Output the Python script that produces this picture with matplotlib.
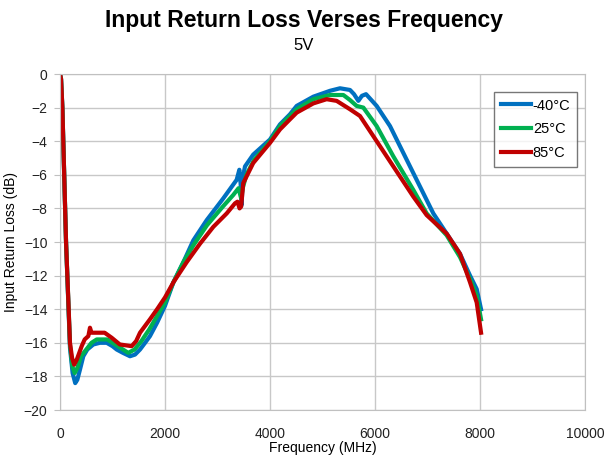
import matplotlib.pyplot as plt

plt.rcParams['font.family'] = ['Liberation Sans', 'DejaVu Sans']

# -40°C
freq_m40 = [0, 20, 45, 115, 190, 240, 290, 330, 380, 444, 520, 635, 760, 889, 1000,
            1080, 1200, 1333, 1430, 1524, 1620, 1714, 1850, 2000, 2160, 2350, 2540,
            2794, 3111, 3365, 3416, 3440, 3460, 3480, 3524, 3680, 4000, 4190, 4380,
            4508, 4825, 5143, 5333, 5524, 5600, 5683, 5750, 5829, 6032, 6286, 6603,
            6857, 7111, 7365, 7619, 7810, 7937, 8020]
loss_m40 = [0, -0.3, -2.0, -10.0, -16.3, -17.8, -18.4, -18.2, -17.6, -16.8, -16.4,
            -16.1, -16.0, -16.0, -16.2, -16.4, -16.6, -16.8, -16.7, -16.4, -16.0,
            -15.6, -14.8, -13.8, -12.4, -11.2, -9.9, -8.7, -7.4, -6.3, -5.7, -6.5,
            -7.8, -6.2, -5.5, -4.8, -3.9, -3.0, -2.4, -1.9, -1.35, -1.0, -0.85,
            -0.95, -1.2, -1.6, -1.3, -1.2, -1.9, -3.1, -5.1, -6.7, -8.3, -9.5,
            -10.7, -12.0, -12.8, -14.0]

# 25°C
freq_25 = [0, 20, 45, 115, 190, 235, 280, 330, 400, 500, 600, 700, 900, 1000, 1150,
           1300, 1420, 1550, 1700, 1850, 2000, 2160, 2350, 2540, 2800, 3100, 3300,
           3400, 3450, 3480, 3550, 3700, 4000, 4190, 4508, 4825, 5143, 5397, 5524,
           5650, 5778, 6032, 6349, 6730, 6984, 7365, 7619, 7810, 7937, 8020]
loss_25 = [0, -0.3, -2.0, -10.0, -16.1, -17.4, -17.8, -17.5, -16.8, -16.4, -16.0,
           -15.8, -15.8, -16.0, -16.3, -16.6, -16.4, -15.9, -15.2, -14.4, -13.6,
           -12.4, -11.2, -10.2, -9.0, -7.9, -7.2, -6.8, -7.4, -6.8, -6.0, -5.1,
           -4.0, -3.1, -2.1, -1.5, -1.25, -1.25, -1.55, -1.9, -2.0, -3.1, -4.9,
           -6.9, -8.3, -9.6, -10.9, -12.2, -13.2, -14.6]

# 85°C
freq_85 = [0, 20, 45, 115, 190, 230, 270, 320, 413, 470, 540, 571, 600, 700, 850,
           985, 1140, 1365, 1450, 1524, 1714, 1850, 2000, 2160, 2413, 2667, 2920,
           3175, 3333, 3380, 3420, 3450, 3490, 3680, 4000, 4190, 4380, 4508, 4825,
           5079, 5270, 5524, 5714, 6032, 6349, 6730, 6984, 7365, 7619, 7810, 7937,
           8020]
loss_85 = [0, -0.3, -2.0, -10.0, -16.0, -16.9, -17.3, -17.0, -16.2, -15.8, -15.6,
           -15.1, -15.4, -15.4, -15.4, -15.7, -16.1, -16.2, -15.9, -15.4, -14.6,
           -14.0, -13.3, -12.4, -11.2, -10.1, -9.1, -8.3, -7.7, -7.6, -8.0, -7.9,
           -6.5, -5.3, -4.1, -3.3, -2.7, -2.3, -1.75, -1.5, -1.6, -2.1, -2.5, -4.0,
           -5.5, -7.3, -8.4, -9.5, -10.7, -12.4, -13.6, -15.4]

fig = plt.figure(figsize=(6.08, 4.59), dpi=100)
ax = fig.add_axes([60/608, 1 - 410/459, 525/608, 336/459])

ax.plot(freq_m40, loss_m40, color='#0070C0', lw=3, label='-40°C')
ax.plot(freq_25, loss_25, color='#00B050', lw=3, label='25°C')
ax.plot(freq_85, loss_85, color='#C00000', lw=3, label='85°C')

ax.set_xlim(0, 10000)
ax.set_ylim(-20, 0)
ax.set_xticks(range(0, 10001, 2000))
ax.set_yticks(range(-20, 1, 2))
ax.grid(True, color='#c8c8c8', lw=1)
ax.set_axisbelow(True)
for s in ax.spines.values():
    s.set_color('#c0c0c0')
ax.tick_params(axis='both', labelsize=10, colors='#222222', length=4)
ax.tick_params(axis='x', length=0, pad=12)
ax.tick_params(axis='y', color='#c0c0c0', pad=5)

ax.set_xlabel('Frequency (MHz)', fontsize=10, labelpad=0)
ax.set_ylabel('Input Return Loss (dB)', fontsize=10)

fig.text(0.5, 1 - 20/459, 'Input Return Loss Verses Frequency', ha='center', va='center',
         fontsize=16.5, fontweight='bold')
fig.text(0.5, 1 - 45/459, '5V', ha='center', va='center', fontsize=12)

leg = ax.legend(loc='upper right', bbox_to_anchor=(517/525, (410 - 92)/336), borderaxespad=0,
                fontsize=10.5, frameon=True, fancybox=False, handlelength=2.1,
                handletextpad=0.1, borderpad=0.45, labelspacing=0.68, edgecolor='#555555')
leg.get_frame().set_linewidth(1)

plt.savefig('out.png', dpi=100)
